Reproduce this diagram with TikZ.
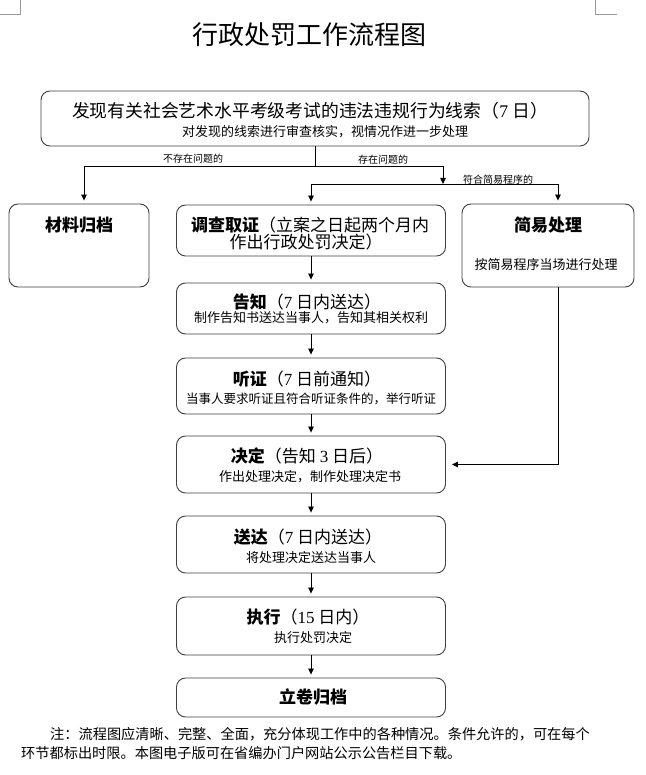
\documentclass[tikz,border=0pt]{standalone}
\usepackage{fontspec}
\setmainfont{Noto Sans CJK SC}
\newfontfamily\numfont{Liberation Serif}
\usetikzlibrary{arrows.meta}
\newcommand\dd[1]{{\numfont #1}}

\begin{document}
\begin{tikzpicture}[x=1pt,y=-1pt,
  box/.style={draw=black!75, line width=0.9pt, rounded corners=9pt, inner sep=0pt},
  flow/.style={draw=black, line width=0.8pt, -{Triangle[length=6pt,width=5.5pt]}, shorten >=3pt},
  link/.style={draw=black, line width=0.8pt},
  head/.style={font=\fontsize{17}{20}\selectfont, inner sep=0pt},
  note/.style={font=\fontsize{13}{15}\selectfont, inner sep=0pt},
  tag/.style={font=\fontsize{10}{12}\selectfont, inner sep=0pt}]
\fill[white] (0,0) rectangle (645,775);
\useasboundingbox (0,0) rectangle (645,775);
\draw[black!40, line width=0.8pt] (20,0) -- (20,14) -- (0,14);
\draw[black!40, line width=0.8pt] (595,0) -- (595,14) -- (617,14);
\node[inner sep=0pt, font=\fontsize{26}{30}\selectfont] (title) at (309,35) {行政处罚工作流程图};

\node[box, minimum width=548pt, minimum height=55pt] (clue) at (315,118.5) {};
\node[head, font=\fontsize{17.8}{20}\selectfont] (cluehead) at (310,111) {发现有关社会艺术水平考级考试的违法违规行为线索（\dd{7} 日）};
\node[note] (cluesub) at (325,132) {对发现的线索进行审查核实，视情况作进一步处理};

\node[box, minimum width=140pt, minimum height=83pt] (archive) at (79,245.5) {};
\node[head] (archivehead) at (79,225) {\bfseries 材料归档};
\node[box, minimum width=172pt, minimum height=83pt] (simple) at (548,245.5) {};
\node[head] (simplehead) at (548,225) {\bfseries 简易处理};
\node[note] (simplesub) at (546,265) {按简易程序当场进行处理};

\node[box, minimum width=269pt, minimum height=51pt] (invest) at (311,230.5) {};
\node[head] (investhead) at (310,225) {\textbf{调查取证}（立案之日起两个月内};
\node[head] (investtail) at (306,242) {作出行政处罚决定）};
\node[box, minimum width=269pt, minimum height=51pt] (notify) at (311,308.5) {};
\node[head] (notifyhead) at (307,302) {\textbf{告知}（\dd{7} 日内送达）};
\node[note] (notifysub) at (311,318) {制作告知书送达当事人，告知其相关权利};
\node[box, minimum width=269pt, minimum height=56pt] (hearing) at (311,386) {};
\node[head] (hearinghead) at (307,379) {\textbf{听证}（\dd{7} 日前通知）};
\node[note, font=\fontsize{12.5}{15}\selectfont] (hearingsub) at (311,399) {当事人要求听证且符合听证条件的，举行听证};
\node[box, minimum width=269pt, minimum height=57pt] (decide) at (311,464.5) {};
\node[head] (decidehead) at (307,456) {\textbf{决定}（告知 \dd{3} 日后）};
\node[note] (decidesub) at (310,477) {作出处理决定，制作处理决定书};
\node[box, minimum width=269pt, minimum height=57pt] (deliver) at (311,544.5) {};
\node[head] (deliverhead) at (308,537) {\textbf{送达}（\dd{7} 日内送达）};
\node[note] (deliversub) at (311,558) {将处理决定送达当事人};
\node[box, minimum width=269pt, minimum height=58pt] (execute) at (311,626) {};
\node[head] (executehead) at (308,617) {\textbf{执行}（\dd{15} 日内）};
\node[note] (executesub) at (313,638) {执行处罚决定};
\node[box, minimum width=269pt, minimum height=39pt] (file) at (311,697.5) {};
\node[head] (filehead) at (313,697) {\bfseries 立卷归档};

\coordinate (split) at (315,166);
\coordinate (left) at (84,166);
\coordinate (right) at (443,166);
\coordinate (fork) at (443,184);
\coordinate (easy) at (558,184);
\draw[link] (clue.south) -- (split);
\draw[flow] (split) -- (left) -- (left |- archive.north);
\draw[flow, shorten >=0pt] (split) -- (right) -- (fork);
\draw[flow] (fork) -| (invest.north);
\draw[flow] (fork) -- (easy) -- (easy |- simple.north);
\draw[flow, shorten >=6pt] (simple.south -| easy) |- (decide.east);
\foreach \a/\b in {invest/notify,notify/hearing,hearing/decide,decide/deliver,deliver/execute,execute/file}
  \draw[flow] (\a.south) -- (\b.north);
\node[tag] (nolabel) at (193,159) {不存在问题的};
\node[tag] (yeslabel) at (383,160) {存在问题的};
\node[tag] (easylabel) at (498,180) {符合简易程序的};

\node[anchor=west, inner sep=0pt, font=\fontsize{14.2}{17}\selectfont] (remark) at (50,734) {注：流程图应清晰、完整、全面，充分体现工作中的各种情况。条件允许的，可在每个};
\node[anchor=west, inner sep=0pt, font=\fontsize{14.2}{17}\selectfont] (remarktail) at (21,753) {环节都标出时限。本图电子版可在省编办门户网站公示公告栏目下载。};
\end{tikzpicture}
\end{document}
